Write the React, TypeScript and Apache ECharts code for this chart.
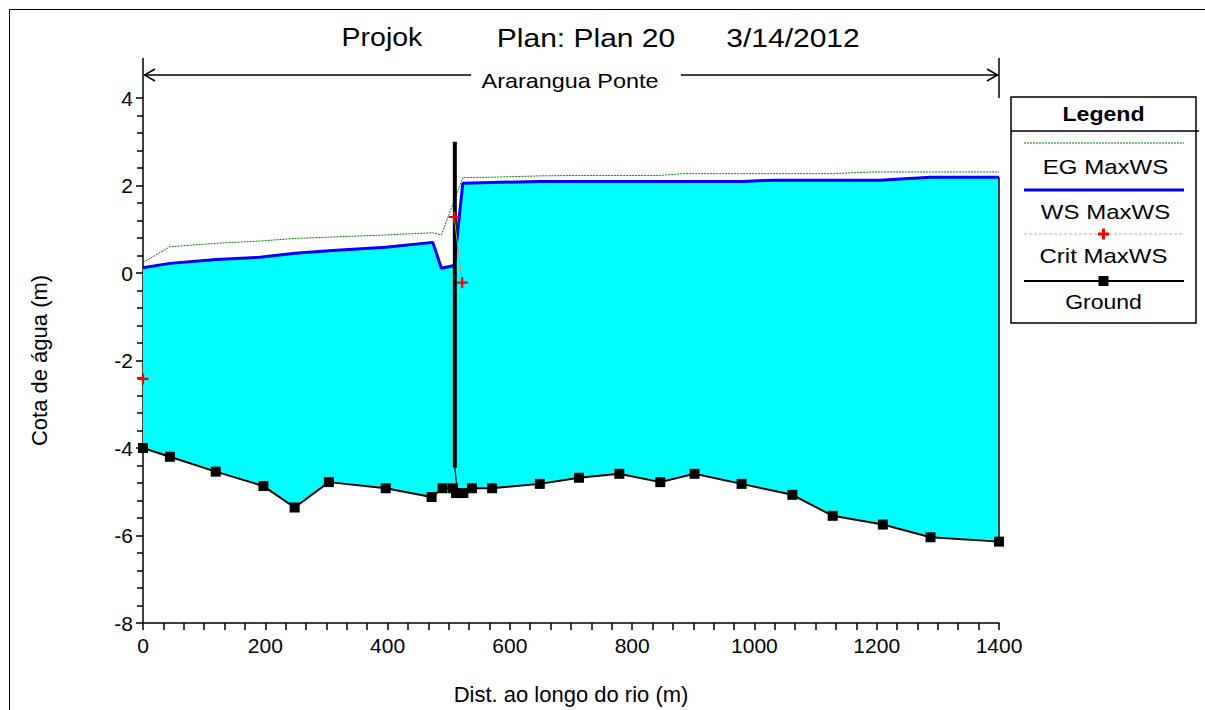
import React, { useEffect, useRef } from "react";
import * as echarts from "echarts";

// ---- data ----
const groundDist = [0, 44, 119, 197, 248, 304, 397, 472, 490, 507, 512, 524, 538, 571, 649, 713, 779, 846, 902, 979, 1062, 1128, 1210, 1288, 1400];
const groundElev = [-4.0, -4.2, -4.54, -4.87, -5.36, -4.78, -4.92, -5.12, -4.92, -4.92, -5.03, -5.03, -4.92, -4.92, -4.82, -4.68, -4.59, -4.78, -4.59, -4.82, -5.07, -5.55, -5.75, -6.04, -6.14];

const wsDist = [0, 44, 120, 191, 249, 304, 397, 474, 488, 509, 523, 571, 649, 713, 779, 846, 902, 979, 1030, 1128, 1205, 1288, 1400];
const wsElev = [0.12, 0.22, 0.31, 0.36, 0.45, 0.51, 0.59, 0.7, 0.11, 0.17, 2.05, 2.07, 2.09, 2.09, 2.09, 2.09, 2.09, 2.09, 2.12, 2.12, 2.12, 2.19, 2.19];

const egDist = [0, 44, 120, 191, 249, 304, 397, 474, 488, 523, 571, 649, 713, 779, 846, 884, 979, 1062, 1129, 1194, 1288, 1400];
const egElev = [0.24, 0.6, 0.68, 0.73, 0.79, 0.82, 0.87, 0.92, 0.87, 2.18, 2.19, 2.22, 2.23, 2.23, 2.23, 2.27, 2.27, 2.27, 2.27, 2.31, 2.31, 2.31];

const critDist = [0, null, 509, 522];
const critElev = [-2.42, null, 1.28, -0.22];

const deckDist = [510, 510];
const deckElev = [3.0, -4.45];
const footDist = [510, 514];
const footElev = [-4.45, -4.98];

const titleParts = ["Projok", "Plan: Plan 20", "3/14/2012"];
const reachName = "Ararangua Ponte";
const legendNames = ["EG MaxWS", "WS MaxWS", "Crit MaxWS", "Ground"];
const xName = "Dist. ao longo do rio (m)";
const yName = "Cota de água (m)";

const FONT = '"Liberation Sans", Arial, Helvetica, sans-serif';
const PLUS = "path://M4,0h2v4h4v2h-4v4h-2v-4h-4v-2h4z";

const pairs = (xs: (number | null)[], ys: (number | null)[]) => xs.map((x, i) => [x, ys[i]]);

export default function App() {
  const ref = useRef<HTMLDivElement>(null);
  useEffect(() => {
    document.body.style.margin = "0";
    const chart = echarts.init(ref.current!, undefined, { renderer: "svg" });
    const axisCommon = {
      axisLine: { show: true, onZero: false, lineStyle: { color: "#000", width: 1.5 } },
      axisTick: { show: true, inside: false, length: 7, lineStyle: { color: "#000", width: 1.5 } },
      splitLine: { show: false },
      axisLabel: { color: "#000", fontSize: 21, fontFamily: FONT, formatter: (v: number) => String(v) },
      nameLocation: "middle" as const,
      nameTextStyle: { color: "#000", fontSize: 22, fontFamily: FONT },
    };
    chart.setOption({
      animation: false,
      grid: { left: 143, right: 206, top: 98, bottom: 83, containLabel: false },
      xAxis: {
        type: "value",
        min: 0,
        max: 1400,
        interval: 200,
        ...axisCommon,
        minorTick: { show: true, splitNumber: 6, length: 7, lineStyle: { color: "#000", width: 1.5 } },
        axisLabel: { ...axisCommon.axisLabel, margin: 12 },
        name: xName,
        nameGap: 60,
      },
      yAxis: {
        type: "value",
        min: -8,
        max: 4,
        interval: 2,
        ...axisCommon,
        minorTick: { show: true, splitNumber: 5, length: 6, lineStyle: { color: "#000", width: 1.5 } },
        axisLabel: { ...axisCommon.axisLabel, margin: 10 },
        name: yName,
        nameGap: 93,
      },
      series: [
        {
          type: "custom",
          name: "fill",
          silent: true,
          clip: true,
          z: 1,
          data: [[0, 0]],
          renderItem: (params: any, api: any) => {
            const pts: number[][] = [];
            wsDist.forEach((d, i) => pts.push(api.coord([d, wsElev[i]])));
            for (let i = groundDist.length - 1; i >= 0; i--) pts.push(api.coord([groundDist[i], groundElev[i]]));
            return { type: "polygon", shape: { points: pts }, style: { fill: "#00ffff", stroke: "none" } };
          },
        },
        {
          type: "line",
          name: "edge",
          z: 3,
          silent: true,
          showSymbol: false,
          data: [
            [groundDist[groundDist.length - 1], groundElev[groundElev.length - 1]],
            [wsDist[wsDist.length - 1], wsElev[wsElev.length - 1]],
          ],
          lineStyle: { color: "#000", width: 1.5 },
        },
        {
          type: "line",
          name: legendNames[0],
          z: 4,
          showSymbol: false,
          data: pairs(egDist, egElev),
          lineStyle: { color: "#008000", width: 1, type: [2, 1] },
        },
        {
          type: "line",
          name: legendNames[1],
          z: 5,
          showSymbol: false,
          data: pairs(wsDist, wsElev),
          lineStyle: { color: "#0000ff", width: 3 },
        },
        {
          type: "line",
          name: "deck",
          z: 6,
          showSymbol: false,
          data: pairs(deckDist, deckElev),
          lineStyle: { color: "#000", width: 4, cap: "butt" },
        },
        {
          type: "line",
          name: "foot",
          z: 6,
          showSymbol: false,
          data: pairs(footDist, footElev),
          lineStyle: { color: "#000", width: 1.2 },
        },
        {
          type: "line",
          name: legendNames[3],
          z: 7,
          showSymbol: true,
          showAllSymbol: true,
          symbol: "rect",
          symbolSize: 10,
          data: pairs(groundDist, groundElev),
          lineStyle: { color: "#000", width: 2 },
          itemStyle: { color: "#000" },
        },
        {
          type: "line",
          name: legendNames[2],
          z: 8,
          showSymbol: true,
          showAllSymbol: true,
          connectNulls: false,
          symbol: PLUS,
          symbolSize: 11,
          data: pairs(critDist, critElev),
          lineStyle: { color: "#c09090", width: 1 },
          itemStyle: { color: "#ff0000" },
        },
      ],
    });

    const pL = chart.convertToPixel({ gridIndex: 0 }, [0, 4]) as number[];
    const pR = chart.convertToPixel({ gridIndex: 0 }, [1400, 4]) as number[];
    const xL = pL[0];
    const xR = pR[0];
    const yTop = pL[1];
    const cx = (xL + xR) / 2;
    const arrowY = 75;
    const gapHalf = 100;

    const lgL = 1011, lgT = 97, lgR = 1196, lgB = 323, lgC = (1011 + 1196) / 2;
    const sx1 = 1024, sx2 = 1184;
    const txt = (text: string, x: number, y: number, size: number, extra: any = {}) => ({
      type: "text",
      x,
      y,
      silent: true,
      ...extra,
      style: { text, fontSize: size, fontFamily: FONT, fill: "#000", textAlign: "center", textVerticalAlign: "middle", ...(extra.style || {}) },
    });
    const ln = (x1: number, y1: number, x2: number, y2: number, stroke: string, lineWidth: number, lineDash?: number[]) => ({
      type: "line",
      silent: true,
      shape: { x1, y1, x2, y2 },
      style: { stroke, lineWidth, lineDash },
    });

    chart.setOption({
      graphic: [
        { type: "rect", silent: true, shape: { x: 9.5, y: 9.5, width: 1210, height: 720 }, style: { fill: "none", stroke: "#000", lineWidth: 1 } },
        txt(titleParts[0], 382, 38, 25, { scaleX: 1.14 }),
        txt(titleParts[1], 586, 38, 25, { scaleX: 1.2 }),
        txt(titleParts[2], 793, 38, 25, { scaleX: 1.2 }),
        // reach annotation
        ln(xL, 58, xL, yTop, "#000", 1.5),
        ln(xR, 58, xR, yTop, "#000", 1.5),
        ln(xL + 1, arrowY, cx - gapHalf, arrowY, "#000", 1.5),
        ln(cx + gapHalf + 10, arrowY, xR - 1, arrowY, "#000", 1.5),
        { type: "polyline", silent: true, shape: { points: [[xL + 12, arrowY - 6], [xL + 1.5, arrowY], [xL + 12, arrowY + 6]] }, style: { stroke: "#000", lineWidth: 1.5, fill: "none" } },
        { type: "polyline", silent: true, shape: { points: [[xR - 12, arrowY - 6], [xR - 1.5, arrowY], [xR - 12, arrowY + 6]] }, style: { stroke: "#000", lineWidth: 1.5, fill: "none" } },
        txt(reachName, cx - 1, 81, 20, { scaleX: 1.17 }),
        // legend box
        { type: "rect", silent: true, shape: { x: lgL, y: lgT, width: lgR - lgL, height: lgB - lgT }, style: { fill: "#fff", stroke: "#000", lineWidth: 1.5 } },
        ln(lgL, 131, 1199, 131, "#000", 1.5),
        txt("Legend", lgC, 114, 21, { style: { fontWeight: "bold" }, scaleX: 1.1 }),
        ln(sx1, 143, sx2, 143, "#008000", 1, [2, 1]),
        txt(legendNames[0], lgC + 2, 167, 20, { scaleX: 1.2 }),
        ln(sx1, 190, sx2, 190, "#0000ff", 3),
        txt(legendNames[1], lgC + 2, 212, 20, { scaleX: 1.2 }),
        ln(sx1, 234, sx2, 234, "#ff9999", 1, [3, 2]),
        { type: "rect", silent: true, shape: { x: lgC - 5.5, y: 232.5, width: 11, height: 3 }, style: { fill: "#ff0000" } },
        { type: "rect", silent: true, shape: { x: lgC - 1.5, y: 228.5, width: 3, height: 11 }, style: { fill: "#ff0000" } },
        txt(legendNames[2], lgC, 256, 20, { scaleX: 1.2 }),
        ln(sx1, 281, sx2, 281, "#000", 2),
        { type: "rect", silent: true, shape: { x: lgC - 5, y: 276, width: 10, height: 10 }, style: { fill: "#000" } },
        txt(legendNames[3], lgC, 302, 20, { scaleX: 1.15 }),
      ],
    });

    return () => chart.dispose();
  }, []);
  return <div ref={ref} style={{ position: "absolute", left: 0, top: 0, width: 1205, height: 710 }} />;
}
